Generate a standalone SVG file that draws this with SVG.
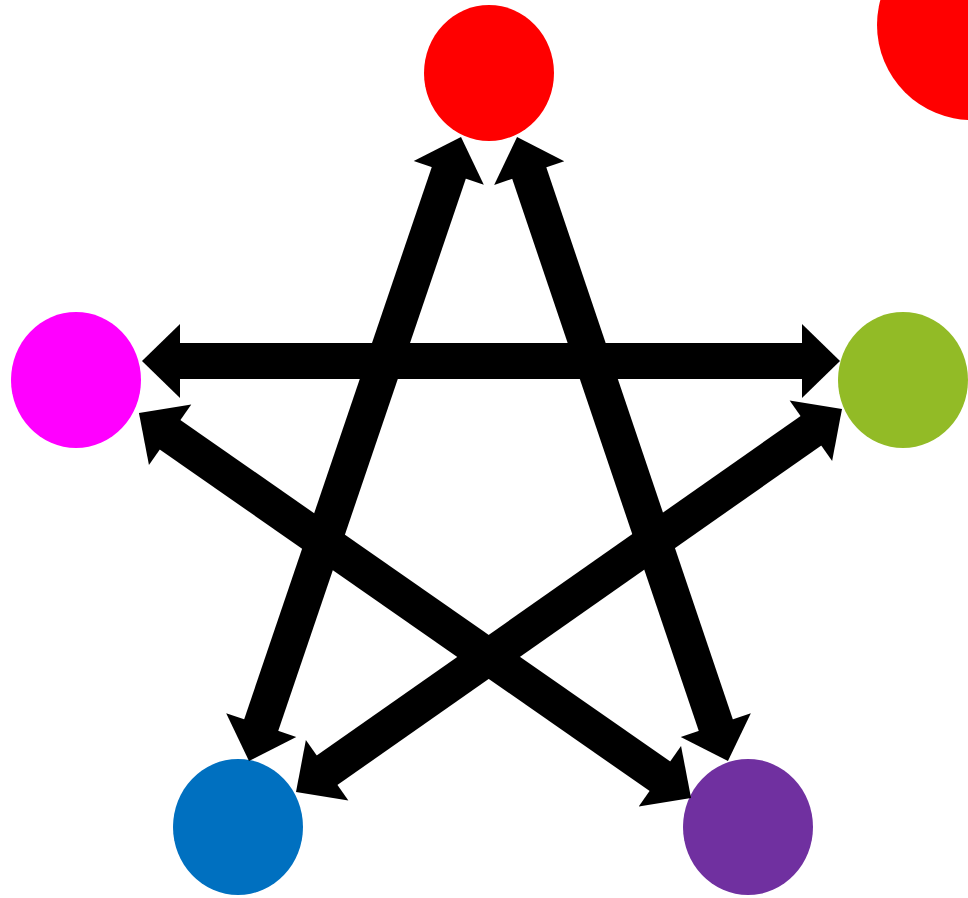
<svg xmlns="http://www.w3.org/2000/svg" width="968" height="898" viewBox="0 0 968 898">
  <style>
    .arrow { stroke: #000000; stroke-width: 36; fill: none; marker-start: url(#head); marker-end: url(#head); }
  </style>
  <defs>
    <marker id="head" markerUnits="userSpaceOnUse" markerWidth="38" markerHeight="74" viewBox="-1 -37 38 74" refX="0" refY="0" orient="auto-start-reverse" overflow="visible">
      <path d="M-1,-37 L37,0 L-1,37 Z" fill="#000000"/>
    </marker>
  </defs>
  <rect width="968" height="898" fill="#ffffff"/>
  <g id="node-big-red"><circle cx="972" cy="25" r="95" fill="#ff0000"/></g>
  <g id="node-red"><ellipse cx="489" cy="73" rx="65" ry="68" fill="#ff0000"/></g>
  <g id="node-magenta"><ellipse cx="76" cy="380" rx="65" ry="68" fill="#ff00ff"/></g>
  <g id="node-green"><ellipse cx="903" cy="380" rx="65" ry="68" fill="#92bb26"/></g>
  <g id="node-blue"><ellipse cx="238" cy="827" rx="65" ry="68" fill="#0070c0"/></g>
  <g id="node-purple"><ellipse cx="748" cy="827" rx="65" ry="68" fill="#7030a0"/></g>
  <g id="connectors">
    <line class="arrow" x1="179" y1="361" x2="803" y2="361"/>
    <line class="arrow" x1="449.1" y1="172.0" x2="260.9" y2="726.0"/>
    <line class="arrow" x1="528.9" y1="172.1" x2="716.1" y2="726.0"/>
    <line class="arrow" x1="169.3" y1="434.2" x2="660.7" y2="776.8"/>
    <line class="arrow" x1="811.7" y1="430.2" x2="326.3" y2="770.8"/>
  </g>
</svg>
